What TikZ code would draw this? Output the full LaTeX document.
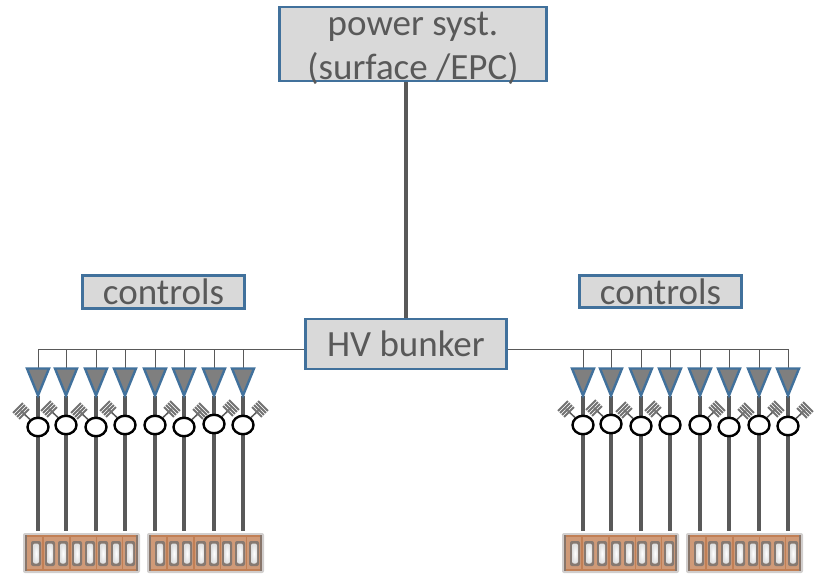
\documentclass[tikz,border=0pt]{standalone}
\usepackage{fontspec}
\usetikzlibrary{shapes.geometric}
\setmainfont{Carlito}
\definecolor{boxfill}{HTML}{D9D9D9}
\definecolor{boxline}{HTML}{41719C}
\definecolor{txt}{HTML}{595959}
\definecolor{wire}{HTML}{595959}
\definecolor{tri}{HTML}{7F7F7F}
\definecolor{copper}{HTML}{CF9A78}
\definecolor{copperd}{HTML}{C17F55}
\definecolor{halo}{HTML}{7A7470}
\tikzset{
  lbl/.style={draw=boxline,line width=2.4pt,fill=boxfill,text=txt,inner sep=0pt,font=\fontsize{37}{44}\selectfont,align=center},
  thick wire/.style={draw=wire,line width=4pt},
  thin wire/.style={draw=wire,line width=.9pt},
  amp/.style={draw=boxline,line width=2.4pt,fill=tri,line join=miter},
  ring/.style={ellipse,draw=black,line width=2.4pt,fill=white,minimum width=21pt,minimum height=18.5pt,inner sep=0pt},
  stub/.style={draw=wire,line width=1.5pt},
  hatch/.style={draw=wire!85,line width=1.9pt},
}
% #1 name, #2 x, #3 ring y, #4 side of the grating (-1 / 1)
\newcommand{\chan}[4]{%
  \coordinate (b#1) at (#2,349);
  \coordinate (tl#1) at (#2-11,368.5);
  \coordinate (tr#1) at (#2+11,368.5);
  \coordinate (ta#1) at (#2,395.5);
  \coordinate (tt#1) at (#2,368);
  \coordinate (m#1) at (#2,531);
  \draw[thin wire] (b#1) -- (tt#1);
  \draw[thick wire] (ta#1) -- (m#1);
  \draw[amp] (tl#1) -- (tr#1) -- (ta#1) -- cycle;
  \coordinate (g#1) at (#2+#4*17,#3-16);
  \node[ring] (r#1) at (#2,#3) {};
  \draw[stub] (g#1) -- (r#1);
  \foreach \k in {-4.2,-1.4,1.4,4.2}
    \draw[hatch] ({#2+#4*17+.707*(\k-7)},{#3-16+#4*.707*(-7-\k)}) -- ({#2+#4*17+.707*(\k+7)},{#3-16+#4*.707*(7-\k)});
}
% #1 name, #2 left x
\newcommand{\module}[2]{%
  \fill[halo,opacity=.35,rounded corners=2pt] (#2-1,533) rectangle (#2+116,573);
  \node[fill=copper,minimum width=113pt,minimum height=36pt,inner sep=0pt,anchor=north west] (#1) at (#2+1,535) {};
  \fill[copperd] (#2+1,535) rectangle (#2+114,537);
  \fill[copperd] (#2+1,568.5) rectangle (#2+114,571);
  \fill[halo!80!copperd] (#2+1,535) rectangle (#2+3,571);
  \fill[halo!80!copperd] (#2+112,535) rectangle (#2+114,571);
  \foreach \o in {12,26,39,53,66,79,92,106} {
    \fill[halo,opacity=.85,rounded corners=2pt] (#2+\o-5,541) rectangle (#2+\o+5,566);
    \shade[inner color=white,outer color=white!75!gray,rounded corners=2pt] (#2+\o-3,543.5) rectangle (#2+\o+3,563.5);
  }
  \foreach \o in {19,46,72.5,98.5}
    \draw[copperd,line width=1.2pt] (#2+\o,537) -- (#2+\o,569);
}
\begin{document}
\begin{tikzpicture}[x=1pt,y=-1pt]
\useasboundingbox (0,0) rectangle (821,573);
\node[lbl,minimum width=267pt,minimum height=74pt] (power) at (413,44) {};
\node[text=txt,font=\fontsize{37}{44}\selectfont,align=center,inner sep=0pt] (powertxt) at (413,48) {power syst.\\(surface /EPC)};
\node[lbl,minimum width=201pt,minimum height=50pt] (hv) at (406,344) {HV bunker};
\node[lbl,minimum width=162pt,minimum height=33pt] (cl) at (163.5,292) {controls};
\node[lbl,minimum width=162pt,minimum height=32pt] (cr) at (660.5,291.5) {controls};
\draw[thick wire] (hv.north) -- (hv.north |- power.south);
\coordinate (busl) at (38,349);
\coordinate (busr) at (788,349);
\draw[thin wire] (busl) -- (hv.west |- busl);
\draw[thin wire] (hv.east |- busr) -- (busr);
\chan{a}{38}{427}{-1}
\chan{b}{66}{425}{-1}
\chan{c}{96}{427}{-1}
\chan{d}{125}{425}{-1}
\chan{e}{155}{425}{1}
\chan{f}{184}{427}{1}
\chan{g}{214}{424}{1}
\chan{h}{243}{425}{1}
\chan{i}{583}{425}{-1}
\chan{j}{611}{424}{-1}
\chan{k}{641}{426}{-1}
\chan{l}{670}{425}{-1}
\chan{m}{700}{425}{1}
\chan{n}{729}{427}{1}
\chan{o}{759}{425}{1}
\chan{p}{788}{426}{1}
\module{ma}{24}
\module{mb}{148}
\module{mc}{563}
\module{md}{687}
\end{tikzpicture}
\end{document}
